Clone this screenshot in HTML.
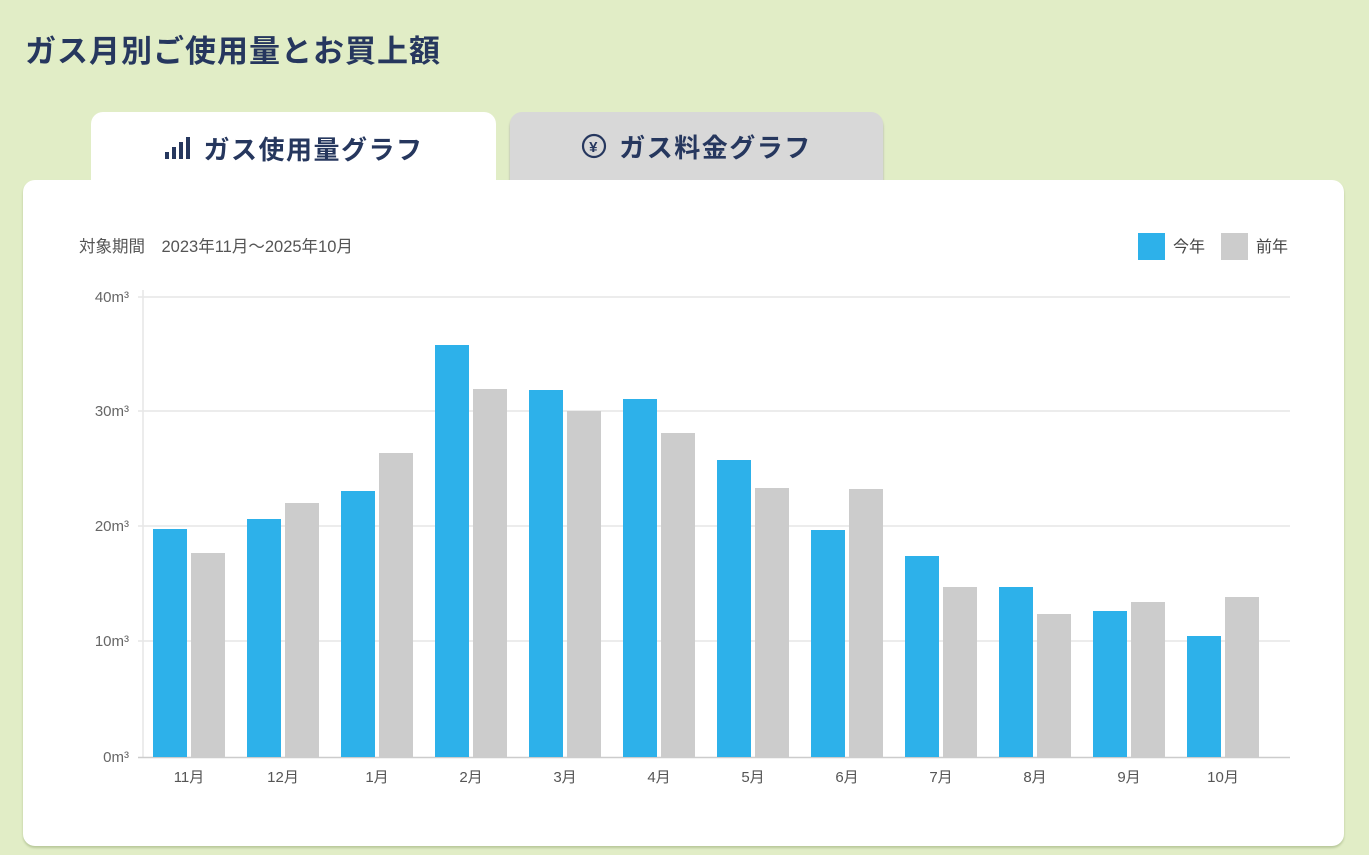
<!DOCTYPE html>
<html><head><meta charset="utf-8"><style>
body{margin:0;width:1369px;height:855px;background:#e1edc6;font-family:"Liberation Sans","Noto Sans CJK JP",sans-serif;position:relative;overflow:hidden}
.t{position:absolute;left:25px;top:26px;font-size:31px;font-weight:bold;color:#26375e;letter-spacing:1px}
.tab{position:absolute;top:112px;height:68px;border-radius:12px 12px 0 0;font-size:26px;font-weight:bold;color:#26375e;display:flex;align-items:center;justify-content:center;letter-spacing:1.5px}
.card{position:absolute;left:23px;top:180px;width:1321px;height:666px;background:#fff;border-radius:12px;box-shadow:0 2px 2px #b8c89a}
</style></head><body>
<div class="t">ガス月別ご使用量とお買上額</div>
<div class="tab" style="left:510px;width:373px;background:#d8d8d8;box-shadow:0 3px 2px #aaa"><svg width="26" height="26" style="margin-right:12px"><circle cx="13" cy="13" r="11" fill="none" stroke="#26375e" stroke-width="2.2"/><text x="13" y="19" font-size="15" font-weight="bold" text-anchor="middle" fill="#26375e" font-family="Liberation Sans">¥</text></svg>ガス料金グラフ</div>
<div class="card"></div>
<div class="tab" style="left:91px;width:405px;background:#fff;height:72px"><svg width="28" height="24" style="margin-right:12px"><rect x="2" y="16" width="4" height="7" fill="#26375e"/><rect x="9" y="11" width="4" height="12" fill="#26375e"/><rect x="16" y="6" width="4" height="17" fill="#26375e"/><rect x="23" y="1" width="4" height="22" fill="#26375e"/></svg>ガス使用量グラフ</div>
<svg style="position:absolute;left:0;top:0" width="1369" height="855" font-family="Liberation Sans, Noto Sans CJK JP, sans-serif">
<text x="79" y="252" font-size="16.5" fill="#555">対象期間　2023年11月～2025年10月</text>
<rect x="1138" y="233" width="27" height="27" fill="#2db1ea"/><text x="1173" y="252" font-size="16" fill="#444">今年</text>
<rect x="1221" y="233" width="27" height="27" fill="#cccccc"/><text x="1256" y="252" font-size="16" fill="#444">前年</text>
<g stroke="#e6e6e6" stroke-width="1.5">
<line x1="138" x2="1290" y1="297" y2="297"/><line x1="138" x2="1290" y1="411" y2="411"/><line x1="138" x2="1290" y1="526" y2="526"/><line x1="138" x2="1290" y1="641" y2="641"/>
<line x1="143" x2="143" y1="290" y2="757"/></g>
<line x1="138" x2="1290" y1="757.5" y2="757.5" stroke="#ccc" stroke-width="1.5"/>
<g font-size="15" fill="#666" text-anchor="end">
<text x="129" y="302">40m³</text><text x="129" y="416">30m³</text><text x="129" y="531">20m³</text><text x="129" y="646">10m³</text><text x="129" y="762">0m³</text></g>
<g id="bars"></g>
<g id="lbl" font-size="15" fill="#555" text-anchor="middle"></g>
</svg>
<script>
var b=[529,519,491,345,390,399,460,530,556,587,611,636],g=[553,503,453,389,411,433,488,489,587,614,602,597],
m=["11月","12月","1月","2月","3月","4月","5月","6月","7月","8月","9月","10月"],s="",l="";
for(var i=0;i<12;i++){var x=153+i*94;
s+='<rect x="'+x+'" y="'+b[i]+'" width="34" height="'+(757-b[i])+'" fill="#2db1ea"/>';
s+='<rect x="'+(x+38)+'" y="'+g[i]+'" width="34" height="'+(757-g[i])+'" fill="#cccccc"/>';
l+='<text x="'+(x+36)+'" y="782">'+m[i]+'</text>';}
document.getElementById("bars").innerHTML=s;document.getElementById("lbl").innerHTML=l;
</script>
</body></html>
